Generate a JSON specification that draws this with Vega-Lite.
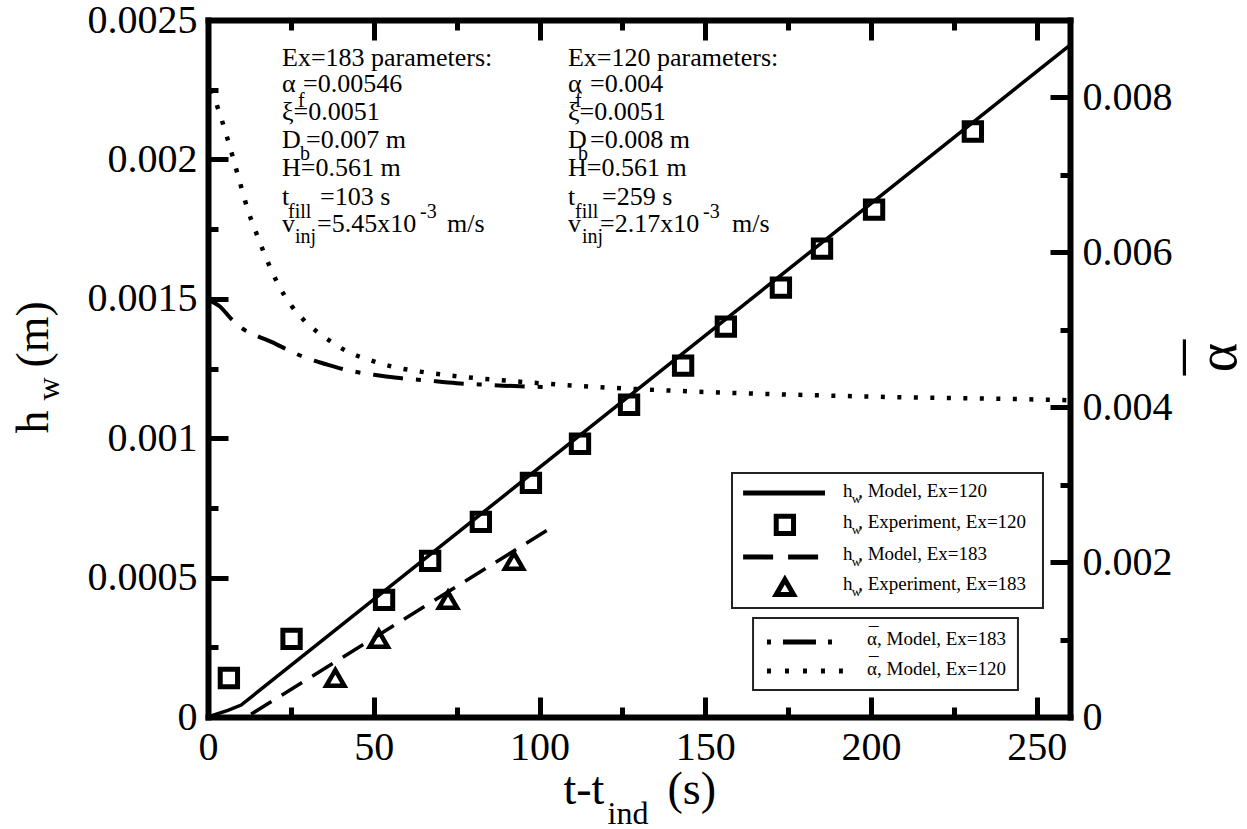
{
  "$schema": "https://vega.github.io/schema/vega-lite/v6.json",
  "width": 862,
  "height": 697,
  "autosize": {"type": "none"},
  "padding": {"left": 208, "top": 20, "right": 177, "bottom": 112},
  "background": "white",
  "config": {
    "view": {"stroke": null},
    "font": "Liberation Serif, DejaVu Serif, serif",
    "axis": {
      "grid": false,
      "domainColor": "black",
      "tickColor": "black",
      "labelColor": "black",
      "titleColor": "black",
      "titleFontWeight": "normal",
      "labelFlush": false,
      "labelOverlap": false,
      "labelBound": false,
      "tickCap": "butt",
      "domainCap": "square"
    }
  },
  "datasets": {
    "model120": [
      {"t": 0, "h": 0}, {"t": 3, "h": 0.000012}, {"t": 6, "h": 0.000024},
      {"t": 10, "h": 0.000043}, {"t": 260, "h": 0.00241}
    ],
    "model183": [
      {"t": 13, "h": 0.00001}, {"t": 103, "h": 0.000675}
    ],
    "exp120": [
      {"t": 6.3, "h": 0.00014}, {"t": 25.2, "h": 0.00028}, {"t": 53.1, "h": 0.00042},
      {"t": 67, "h": 0.00056}, {"t": 82.3, "h": 0.0007}, {"t": 97.4, "h": 0.00084},
      {"t": 112.2, "h": 0.00098}, {"t": 127, "h": 0.00112}, {"t": 143.3, "h": 0.00126},
      {"t": 156.2, "h": 0.0014}, {"t": 172.8, "h": 0.00154}, {"t": 185.2, "h": 0.00168},
      {"t": 200.9, "h": 0.00182}, {"t": 230.7, "h": 0.0021}
    ],
    "exp183": [
      {"t": 38.4, "h": 0.00014}, {"t": 51.5, "h": 0.00028},
      {"t": 72.4, "h": 0.00042}, {"t": 92.3, "h": 0.00056}
    ],
    "alpha120": [
      {"t": 1, "a": 0.0081}, {"t": 3, "a": 0.00786}, {"t": 6, "a": 0.00745},
      {"t": 9, "a": 0.007}, {"t": 12, "a": 0.00655}, {"t": 15, "a": 0.0062},
      {"t": 18, "a": 0.00588}, {"t": 21, "a": 0.0056}, {"t": 25, "a": 0.00532},
      {"t": 29, "a": 0.00512}, {"t": 33, "a": 0.00497}, {"t": 37, "a": 0.00485},
      {"t": 42, "a": 0.00472}, {"t": 48, "a": 0.00462}, {"t": 55, "a": 0.00453},
      {"t": 64, "a": 0.00446}, {"t": 75, "a": 0.0044}, {"t": 88, "a": 0.00435},
      {"t": 100, "a": 0.00431}, {"t": 118, "a": 0.00426}, {"t": 148, "a": 0.0042},
      {"t": 178, "a": 0.00416}, {"t": 208, "a": 0.00413}, {"t": 238, "a": 0.00411},
      {"t": 260, "a": 0.00409}
    ],
    "alpha183": [
      {"t": 0.5, "a": 0.00538}, {"t": 3.6, "a": 0.0053}, {"t": 7, "a": 0.00514},
      {"t": 10.6, "a": 0.00501}, {"t": 14.8, "a": 0.00492}, {"t": 19.3, "a": 0.00484},
      {"t": 25, "a": 0.00472}, {"t": 30, "a": 0.00463}, {"t": 36, "a": 0.00455},
      {"t": 43, "a": 0.00447}, {"t": 50, "a": 0.00442}, {"t": 57, "a": 0.00438},
      {"t": 65, "a": 0.00435}, {"t": 75, "a": 0.00431}, {"t": 84, "a": 0.00429},
      {"t": 94, "a": 0.00427}, {"t": 103, "a": 0.00426}
    ],
    "notes": [
      {"t": 22.32, "h": 0.002335, "s": "Ex=183 parameters:"},
      {"t": 22.32, "h": 0.002242, "s": "\u03b1"},
      {"t": 28.65, "h": 0.002242, "s": "=0.00546"},
      {"t": 22.32, "h": 0.002141, "s": "\u03be=0.0051"},
      {"t": 22.32, "h": 0.002041, "s": "D"},
      {"t": 29.56, "h": 0.002041, "s": "=0.007 m"},
      {"t": 22.32, "h": 0.00194, "s": "H=0.561 m"},
      {"t": 22.32, "h": 0.001836, "s": "t"},
      {"t": 33.78, "h": 0.001836, "s": "=103 s"},
      {"t": 22.32, "h": 0.00174, "s": "v"},
      {"t": 32.88, "h": 0.00174, "s": "=5.45x10"},
      {"t": 72.09, "h": 0.00174, "s": "m/s"},
      {"t": 108.58, "h": 0.002335, "s": "Ex=120 parameters:"},
      {"t": 108.58, "h": 0.002242, "s": "\u03b1"},
      {"t": 115.22, "h": 0.002242, "s": "=0.004"},
      {"t": 108.58, "h": 0.002141, "s": "\u03be=0.0051"},
      {"t": 108.58, "h": 0.002041, "s": "D"},
      {"t": 115.22, "h": 0.002041, "s": "=0.008 m"},
      {"t": 108.58, "h": 0.00194, "s": "H=0.561 m"},
      {"t": 108.58, "h": 0.001836, "s": "t"},
      {"t": 118.84, "h": 0.001836, "s": "=259 s"},
      {"t": 108.58, "h": 0.00174, "s": "v"},
      {"t": 118.24, "h": 0.00174, "s": "=2.17x10"},
      {"t": 158.05, "h": 0.00174, "s": "m/s"}
    ],
    "noteSubs": [
      {"t": 27.15, "h": 0.002188, "s": "f"},
      {"t": 27.75, "h": 0.001998, "s": "b"},
      {"t": 24.13, "h": 0.00179, "s": "fill"},
      {"t": 26.24, "h": 0.0017, "s": "inj"},
      {"t": 63.94, "h": 0.00179, "s": "-3"},
      {"t": 110.69, "h": 0.002188, "s": "f"},
      {"t": 111.6, "h": 0.001998, "s": "b"},
      {"t": 110.69, "h": 0.00179, "s": "fill"},
      {"t": 112.81, "h": 0.0017, "s": "inj"},
      {"t": 149.3, "h": 0.00179, "s": "-3"}
    ],
    "keyBoxes": [
      {"t1": 158.05, "t2": 251.85, "h1": 0.000875, "h2": 0.000391},
      {"t1": 164.4, "t2": 244.3, "h1": 0.000355, "h2": 0.0000968}
    ],
    "keyLines": [
      {"k": "solid", "t1": 161.4, "t2": 186.1, "h": 0.000803},
      {"k": "dash", "t1": 161.4, "t2": 185.2, "h": 0.000574},
      {"k": "dashdot", "t1": 168.6, "t2": 189.1, "h": 0.000269},
      {"k": "dot", "t1": 168.6, "t2": 191.5, "h": 0.000165}
    ],
    "keySymbols": [
      {"k": "Ex=120", "t": 174.0, "h": 0.000689},
      {"k": "Ex=183", "t": 174.0, "h": 0.000466}
    ],
    "keyText": [
      {"t": 191.5, "h": 0.000789, "s": "h"},
      {"t": 196.1, "h": 0.000789, "s": ", Model, Ex=120"},
      {"t": 191.5, "h": 0.000678, "s": "h"},
      {"t": 196.1, "h": 0.000678, "s": ", Experiment, Ex=120"},
      {"t": 191.5, "h": 0.000563, "s": "h"},
      {"t": 196.1, "h": 0.000563, "s": ", Model, Ex=183"},
      {"t": 191.5, "h": 0.000456, "s": "h"},
      {"t": 196.1, "h": 0.000456, "s": ", Experiment, Ex=183"},
      {"t": 198.8, "h": 0.000258, "s": "\u03b1, Model, Ex=183"},
      {"t": 199.4, "h": 0.000276, "s": "\u00af"},
      {"t": 198.8, "h": 0.000151, "s": "\u03b1, Model, Ex=120"},
      {"t": 199.4, "h": 0.000169, "s": "\u00af"}
    ],
    "keySubs": [
      {"t": 194.2, "h": 0.000768, "s": "w"},
      {"t": 194.2, "h": 0.000657, "s": "w"},
      {"t": 194.2, "h": 0.000542, "s": "w"},
      {"t": 194.2, "h": 0.000435, "s": "w"}
    ]
  },
  "resolve": {
    "scale": {"y": "independent"},
    "axis": {"x": "independent", "y": "independent"}
  },
  "layer": [
    {
      "data": {"name": "model120"},
      "mark": {"type": "line", "color": "black", "strokeWidth": 3.5},
      "encoding": {
        "x": {
          "field": "t", "type": "quantitative",
          "scale": {"domain": [0, 260], "nice": false, "zero": false},
          "axis": {
            "orient": "bottom", "values": [0, 50, 100, 150, 200, 250],
            "tickSize": -20, "tickWidth": 5, "domainWidth": 6,
            "labelFont": "Liberation Serif, DejaVu Serif, serif", "titleFont": "Liberation Serif, DejaVu Serif, serif",
            "labelFontSize": 40, "labelPadding": 30, "format": "d",
            "title": "t-t", "titleFontSize": 46, "titleX": 355, "titleY": 86,
            "titleAlign": "left", "titleBaseline": "alphabetic", "titleAnchor": null
          }
        },
        "y": {
          "field": "h", "type": "quantitative",
          "scale": {"domain": [0, 0.0025], "nice": false, "zero": false},
          "axis": {
            "orient": "left",
            "values": [0, 0.0005, 0.001, 0.0015, 0.002, 0.0025],
            "tickSize": -20, "tickWidth": 5, "domainWidth": 6,
            "labelFont": "Liberation Serif, DejaVu Serif, serif", "titleFont": "Liberation Serif, DejaVu Serif, serif",
            "labelFontSize": 40, "labelPadding": 31, "format": "~r",
            "title": "h", "titleFontSize": 46, "titleAngle": 270,
            "titleX": -161, "titleY": 413, "titleAlign": "left",
            "titleBaseline": "alphabetic", "titleAnchor": null
          }
        }
      }
    },
    {
      "data": {"name": "model183"},
      "mark": {"type": "line", "color": "black", "strokeWidth": 3.5, "strokeDash": [24, 12]},
      "encoding": {
        "x": {
          "field": "t", "type": "quantitative",
          "scale": {"domain": [0, 260], "nice": false, "zero": false},
          "axis": {
            "orient": "bottom", "values": [25, 75, 125, 175, 225],
            "tickSize": -10, "tickWidth": 5, "domain": false, "labels": false,
            "titleFont": "Liberation Serif, DejaVu Serif, serif",
            "title": "ind", "titleFontSize": 32, "titleX": 399, "titleY": 106,
            "titleAlign": "left", "titleBaseline": "alphabetic", "titleAnchor": null
          }
        },
        "y": {
          "field": "h", "type": "quantitative",
          "scale": {"domain": [0, 0.0025], "nice": false, "zero": false},
          "axis": {
            "orient": "left",
            "values": [0.00025, 0.00075, 0.00125, 0.00175, 0.00225],
            "tickSize": -10, "tickWidth": 5, "domain": false, "labels": false,
            "titleFont": "Liberation Serif, DejaVu Serif, serif",
            "title": "w", "titleFontSize": 32, "titleAngle": 270,
            "titleX": -150, "titleY": 380, "titleAlign": "left",
            "titleBaseline": "alphabetic", "titleAnchor": null
          }
        }
      }
    },
    {
      "data": {"name": "alpha120"},
      "mark": {"type": "line", "color": "black", "strokeWidth": 4.5, "strokeDash": [4, 12.5], "strokeCap": "butt", "interpolate": "monotone"},
      "encoding": {
        "x": {
          "field": "t", "type": "quantitative",
          "scale": {"domain": [0, 260], "nice": false, "zero": false},
          "axis": null
        },
        "y": {
          "field": "a", "type": "quantitative",
          "scale": {"domain": [0, 0.009], "nice": false, "zero": false},
          "axis": {
            "orient": "right", "values": [0, 0.002, 0.004, 0.006, 0.008],
            "tickSize": -20, "tickWidth": 5, "domainWidth": 6,
            "labelFont": "Liberation Serif, DejaVu Serif, serif", "titleFont": "Liberation Serif, DejaVu Serif, serif",
            "labelFontSize": 40, "labelPadding": 32, "format": "~r",
            "title": "\u03b1", "titleFontSize": 56, "titleAngle": 270,
            "titleX": 165, "titleY": 337, "titleAlign": "center",
            "titleBaseline": "alphabetic", "titleAnchor": null
          }
        }
      }
    },
    {
      "data": {"name": "alpha183"},
      "mark": {"type": "line", "color": "black", "strokeWidth": 4, "strokeDash": [30, 13, 5, 13], "strokeCap": "butt", "interpolate": "monotone"},
      "encoding": {
        "x": {
          "field": "t", "type": "quantitative",
          "scale": {"domain": [0, 260], "nice": false, "zero": false},
          "axis": null
        },
        "y": {
          "field": "a", "type": "quantitative",
          "scale": {"domain": [0, 0.009], "nice": false, "zero": false},
          "axis": {
            "orient": "right", "values": [0.001, 0.003, 0.005, 0.007],
            "tickSize": -10, "tickWidth": 5, "domain": false, "labels": false,
            "titleFont": "Liberation Serif, DejaVu Serif, serif",
            "title": "\u00af", "titleFontSize": 70, "titleAngle": 270,
            "titleX": 165, "titleY": 337, "titleAlign": "center",
            "titleBaseline": "alphabetic", "titleAnchor": null
          }
        }
      }
    },
    {
      "data": {"name": "exp120"},
      "mark": {"type": "point", "shape": "square", "filled": false, "size": 300, "strokeWidth": 5, "stroke": "black", "opacity": 1},
      "encoding": {
        "x": {
          "field": "t", "type": "quantitative",
          "scale": {"domain": [0, 260], "nice": false, "zero": false},
          "axis": {
            "orient": "top", "values": [0, 50, 100, 150, 200, 250],
            "tickSize": -20, "tickWidth": 5, "domainWidth": 6, "labels": false,
            "titleFont": "Liberation Serif, DejaVu Serif, serif",
            "title": "(s)", "titleFontSize": 46, "titleX": 459, "titleY": 783,
            "titleAlign": "left", "titleBaseline": "alphabetic", "titleAnchor": null
          }
        },
        "y": {
          "field": "h", "type": "quantitative",
          "scale": {"domain": [0, 0.0025], "nice": false, "zero": false},
          "axis": {
            "orient": "left", "ticks": false, "labels": false, "domain": false,
            "titleFont": "Liberation Serif, DejaVu Serif, serif",
            "title": "(m)", "titleFontSize": 46, "titleAngle": 270,
            "titleX": -161, "titleY": 347, "titleAlign": "left",
            "titleBaseline": "alphabetic", "titleAnchor": null
          }
        }
      }
    },
    {
      "data": {"name": "exp183"},
      "mark": {"type": "point", "shape": "triangle-up", "filled": false, "size": 330, "strokeWidth": 4.5, "stroke": "black", "opacity": 1},
      "encoding": {
        "x": {
          "field": "t", "type": "quantitative",
          "scale": {"domain": [0, 260], "nice": false, "zero": false},
          "axis": {
            "orient": "top", "values": [25, 75, 125, 175, 225],
            "tickSize": -10, "tickWidth": 5, "domain": false, "labels": false,
            "title": null
          }
        },
        "y": {
          "field": "h", "type": "quantitative",
          "scale": {"domain": [0, 0.0025], "nice": false, "zero": false},
          "axis": null
        }
      }
    },
    {
      "data": {"name": "notes"},
      "mark": {"type": "text", "align": "left", "baseline": "alphabetic", "fontSize": 26, "font": "Liberation Serif, DejaVu Serif, serif", "color": "black"},
      "encoding": {
        "x": {"field": "t", "type": "quantitative", "scale": {"domain": [0, 260], "nice": false, "zero": false}, "axis": null},
        "y": {"field": "h", "type": "quantitative", "scale": {"domain": [0, 0.0025], "nice": false, "zero": false}, "axis": null},
        "text": {"field": "s"}
      }
    },
    {
      "data": {"name": "noteSubs"},
      "mark": {"type": "text", "align": "left", "baseline": "alphabetic", "fontSize": 20, "font": "Liberation Serif, DejaVu Serif, serif", "color": "black"},
      "encoding": {
        "x": {"field": "t", "type": "quantitative", "scale": {"domain": [0, 260], "nice": false, "zero": false}, "axis": null},
        "y": {"field": "h", "type": "quantitative", "scale": {"domain": [0, 0.0025], "nice": false, "zero": false}, "axis": null},
        "text": {"field": "s"}
      }
    },
    {
      "data": {"name": "keyBoxes"},
      "mark": {"type": "rect", "fill": "white", "stroke": "#222222", "strokeWidth": 2},
      "encoding": {
        "x": {"field": "t1", "type": "quantitative", "scale": {"domain": [0, 260], "nice": false, "zero": false}, "axis": null},
        "x2": {"field": "t2"},
        "y": {"field": "h1", "type": "quantitative", "scale": {"domain": [0, 0.0025], "nice": false, "zero": false}, "axis": null},
        "y2": {"field": "h2"}
      }
    },
    {
      "data": {"name": "keyLines"},
      "mark": {"type": "rule", "color": "black", "strokeWidth": 5, "strokeCap": "butt"},
      "encoding": {
        "x": {"field": "t1", "type": "quantitative", "scale": {"domain": [0, 260], "nice": false, "zero": false}, "axis": null},
        "x2": {"field": "t2"},
        "y": {"field": "h", "type": "quantitative", "scale": {"domain": [0, 0.0025], "nice": false, "zero": false}, "axis": null},
        "strokeDash": {
          "field": "k", "type": "nominal", "legend": null,
          "scale": {"domain": ["solid", "dash", "dashdot", "dot"], "range": [[1, 0], [30, 15], [4, 12, 33, 12], [4, 14]]}
        }
      }
    },
    {
      "data": {"name": "keySymbols"},
      "mark": {"type": "point", "filled": false, "size": 300, "strokeWidth": 5, "stroke": "black", "opacity": 1},
      "encoding": {
        "x": {"field": "t", "type": "quantitative", "scale": {"domain": [0, 260], "nice": false, "zero": false}, "axis": null},
        "y": {"field": "h", "type": "quantitative", "scale": {"domain": [0, 0.0025], "nice": false, "zero": false}, "axis": null},
        "shape": {
          "field": "k", "type": "nominal", "legend": null,
          "scale": {"domain": ["Ex=120", "Ex=183"], "range": ["square", "triangle-up"]}
        }
      }
    },
    {
      "data": {"name": "keyText"},
      "mark": {"type": "text", "align": "left", "baseline": "alphabetic", "fontSize": 19, "font": "Liberation Serif, DejaVu Serif, serif", "color": "black"},
      "encoding": {
        "x": {"field": "t", "type": "quantitative", "scale": {"domain": [0, 260], "nice": false, "zero": false}, "axis": null},
        "y": {"field": "h", "type": "quantitative", "scale": {"domain": [0, 0.0025], "nice": false, "zero": false}, "axis": null},
        "text": {"field": "s"}
      }
    },
    {
      "data": {"name": "keySubs"},
      "mark": {"type": "text", "align": "left", "baseline": "alphabetic", "fontSize": 13, "font": "Liberation Serif, DejaVu Serif, serif", "color": "black"},
      "encoding": {
        "x": {"field": "t", "type": "quantitative", "scale": {"domain": [0, 260], "nice": false, "zero": false}, "axis": null},
        "y": {"field": "h", "type": "quantitative", "scale": {"domain": [0, 0.0025], "nice": false, "zero": false}, "axis": null},
        "text": {"field": "s"}
      }
    }
  ]
}
